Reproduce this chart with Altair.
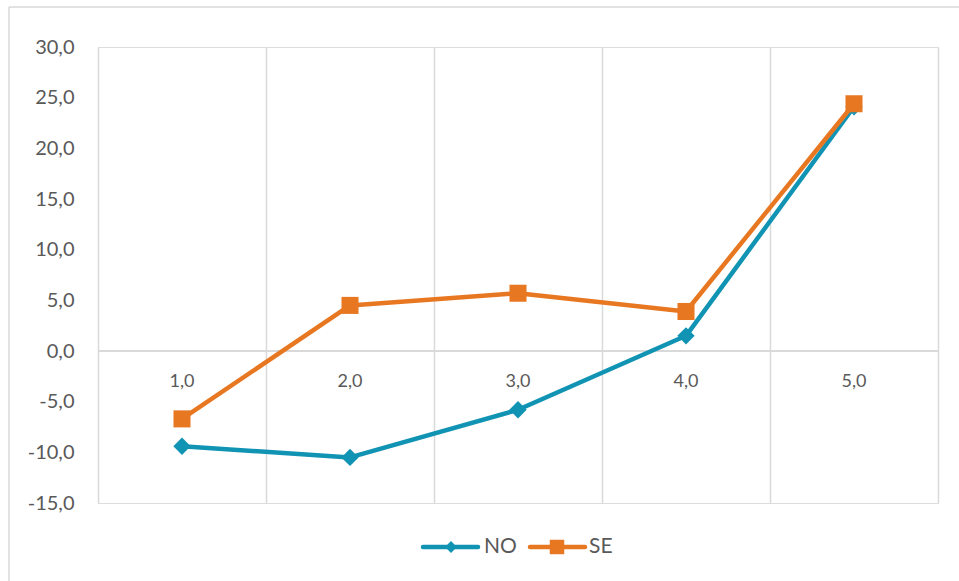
import altair as alt
import pandas as pd

# Series values per category
categories = [1, 2, 3, 4, 5]
category_labels = ["1,0", "2,0", "3,0", "4,0", "5,0"]
series_names = ["NO", "SE"]
no_values = [-9.4, -10.5, -5.8, 1.5, 24.1]
se_values = [-6.7, 4.5, 5.7, 3.9, 24.4]

series_colors = ["#1193b3", "#e87722"]
series_shapes = ["diamond", "square"]
grid_color = "#d9d9d9"
text_color = "#595959"
font = "Lato"

W, H = 840, 456
PAD_L, PAD_T = 98, 47

df = pd.DataFrame({
    "cat": categories * 2,
    "value": no_values + se_values,
    "series": [series_names[0]] * 5 + [series_names[1]] * 5,
})
labels_df = pd.DataFrame({"cat": categories, "label": category_labels})
legend_df = pd.DataFrame({"series": series_names})

x_scale = alt.Scale(domain=[0.5, 5.5], nice=False, zero=False)
y_scale = alt.Scale(domain=[-15, 30], nice=False, zero=False)
color_scale = alt.Scale(domain=series_names, range=series_colors)

x_axis = alt.Axis(
    values=[0.5, 1.5, 2.5, 3.5, 4.5, 5.5], labels=False, ticks=False,
    domain=False, grid=True, gridColor=grid_color, gridWidth=1.5, title=None,
)
y_axis = alt.Axis(
    values=[-15, -10, -5, 0, 5, 10, 15, 20, 25, 30], grid=False, domain=False,
    ticks=False, labelPadding=24, labelFontSize=20, labelFont=font,
    labelColor=text_color, title=None,
    labelExpr="replace(replace(format(datum.value, '.1f'), '.', ','), '\u2212', '-')",
)

base = alt.Chart(df)

# Vertical grid and y labels
frame = base.mark_point(opacity=0).encode(
    x=alt.X("cat:Q", scale=x_scale, axis=x_axis),
    y=alt.Y("value:Q", scale=y_scale, axis=y_axis),
)

# Zero line
zero = alt.Chart(labels_df).mark_rule(color=grid_color, strokeWidth=1.5).encode(
    y=alt.datum(0, scale=y_scale), x=alt.value(0), x2=alt.value(W)
)

# Category labels under the zero line
cat_text = alt.Chart(labels_df).mark_text(
    font=font, fontSize=18, color=text_color, baseline="middle", dy=31
).encode(
    x=alt.X("cat:Q", scale=x_scale),
    y=alt.datum(0, scale=y_scale),
    text="label:N",
)

layers = [frame, zero, cat_text]
for name, shape in zip(series_names, series_shapes):
    sub = base.transform_filter(alt.datum.series == name)
    layers.append(
        sub.mark_line(strokeWidth=4.5, strokeJoin="round").encode(
            x=alt.X("cat:Q", scale=x_scale),
            y=alt.Y("value:Q", scale=y_scale),
            color=alt.Color("series:N", scale=color_scale, legend=None),
        )
    )
    layers.append(
        sub.mark_point(shape=shape, filled=True, opacity=1,
                       size=290 if shape == "square" else 300).encode(
            x=alt.X("cat:Q", scale=x_scale),
            y=alt.Y("value:Q", scale=y_scale),
            color=alt.Color("series:N", scale=color_scale, legend=None),
        )
    )

# Legend entries below the plot
legend_pos = {"NO": (325, 380, 353, 386), "SE": (432, 487, 459, 491)}
ly = 547 - PAD_T
for name, shape in zip(series_names, series_shapes):
    x1, x2, xm, xt = legend_pos[name]
    ldf = alt.Chart(legend_df).transform_filter(alt.datum.series == name)
    layers.append(
        ldf.mark_rule(strokeWidth=4.5, strokeCap="round").encode(
            x=alt.value(x1), x2=alt.value(x2), y=alt.value(ly),
            color=alt.Color("series:N", scale=color_scale, legend=None),
        )
    )
    layers.append(
        ldf.mark_point(shape=shape, filled=True, opacity=1,
                       size=210 if shape == "square" else 140).encode(
            x=alt.value(xm), y=alt.value(ly),
            color=alt.Color("series:N", scale=color_scale, legend=None),
        )
    )
    layers.append(
        ldf.mark_text(font=font, fontSize=21, color=text_color,
                      align="left", baseline="middle").encode(
            x=alt.value(xt), y=alt.value(ly), text="series:N"
        )
    )

# Outer border (left and top edges)
border_df = pd.DataFrame({"k": [0]})
layers.append(
    alt.Chart(border_df).mark_rule(color=grid_color, strokeWidth=1.5).encode(
        x=alt.value(9 - PAD_L), y=alt.value(7 - PAD_T), y2=alt.value(600)
    )
)
layers.append(
    alt.Chart(border_df).mark_rule(color=grid_color, strokeWidth=1.5).encode(
        x=alt.value(9 - PAD_L), x2=alt.value(1000), y=alt.value(7 - PAD_T)
    )
)

chart = alt.layer(*layers).properties(
    width=W, height=H,
    autosize=alt.AutoSizeParams(type="none"),
    padding={"left": PAD_L, "top": PAD_T, "right": 959 - PAD_L - W, "bottom": 581 - PAD_T - H},
).configure_view(stroke=None).configure(background="white")

chart.save("out.html", embed_options={"renderer": "svg", "actions": False})
